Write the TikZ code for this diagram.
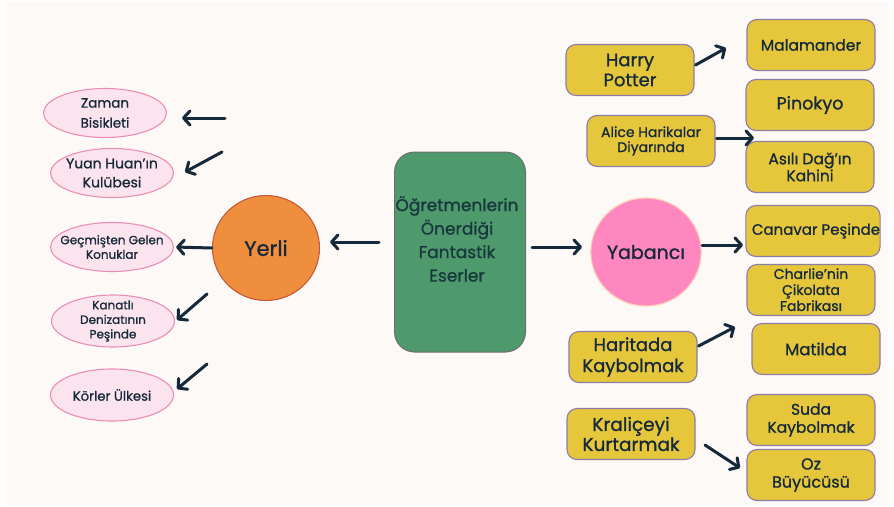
\documentclass[tikz,border=0pt]{standalone}
\usepackage{fontspec}
\setmainfont{Poppins}[BoldFont=*, BoldFeatures={FakeBold=1.0}]
\usetikzlibrary{arrows.meta,shapes.geometric}
\definecolor{bgc}{HTML}{FDF9F6}
\definecolor{ink}{HTML}{15293A}
\definecolor{pinkfill}{HTML}{FCE4EE}
\definecolor{pinkstroke}{HTML}{EC8DB6}
\definecolor{orangefill}{HTML}{EF8F3E}
\definecolor{orangestroke}{HTML}{C65A3A}
\definecolor{greenfill}{HTML}{4E9A6C}
\definecolor{greenstroke}{HTML}{6E6E6E}
\definecolor{hotpink}{HTML}{FF87BF}
\definecolor{peach}{HTML}{FFCDB4}
\definecolor{yfill}{HTML}{E6C73C}
\definecolor{ystroke}{HTML}{8E7CA8}
\definecolor{maintext}{HTML}{17383C}
\tikzset{
  pinkell/.style={ellipse, draw=pinkstroke, fill=pinkfill, line width=1.1pt,
    minimum width=123pt, minimum height=49pt, inner sep=0pt},
  ptext/.style={align=center, text=ink, inner sep=0pt},
  ybox/.style={rectangle, rounded corners=10pt, draw=ystroke, fill=yfill, line width=1.1pt,
    minimum width=128pt, minimum height=51pt, inner sep=0pt, align=center, text=ink},
  arr/.style={draw=ink, line width=3pt, line cap=round,
    -{Straight Barb[round,length=6.5pt,width=14pt]}},
  fs/.style 2 args={font=\fontsize{#1pt}{#2pt}\selectfont\bfseries}
}
\begin{document}
\begin{tikzpicture}[x=1pt,y=-1pt]
\useasboundingbox (0,0) rectangle (894,506);
\fill[white] (0,0) rectangle (894,506);
\fill[bgc] (6,1) rectangle (888,505);

% left ellipses (text as centred labels so the shape keeps its size)
\node[pinkell, label={[ptext, fs={13.5}{20}]center:Zaman\\Bisikleti}] (zaman) at (105,113) {};
\node[pinkell, label={[ptext, fs={14}{19}]center:Yuan Huan’ın\\Kulübesi}] (yuan) at (112,173) {};
\node[pinkell, label={[ptext, fs={12}{14.5}]center:Geçmişten Gelen\\Konuklar}] (gecmis) at (112,247) {};
\node[pinkell, minimum height=52pt, label={[ptext, fs={12}{14.5}]center:Kanatlı\\Denizatının\\Peşinde}] (kanatli) at (113,321) {};
\node[pinkell, minimum height=52pt, label={[ptext, fs={13.2}{16}]center:Körler Ülkesi}] (korler) at (112,395) {};

% centre
\node[ellipse, draw=orangestroke, fill=orangefill, line width=1.1pt, minimum width=107pt,
  minimum height=105pt, inner sep=0pt, text=ink, fs={21}{24}] (yerli) at (266,248) {Yerli};
\node[rectangle, rounded corners=20pt, draw=greenstroke, fill=greenfill, line width=1pt,
  minimum width=131pt, minimum height=200pt] (main) at (460,252) {};
\node[align=center, text=maintext, fs={17}{23.5}, inner sep=0pt] (maintxt) at (457,239)
  {Öğretmenlerin\\Önerdiği\\Fantastik\\Eserler};
\node[ellipse, draw=peach, fill=hotpink, line width=1.1pt, minimum width=106pt,
  minimum height=108pt, inner sep=0pt, text=ink, fs={19}{22}] (yabanci) at (646,252) {Yabancı};

% right boxes
\node[ybox, fs={18}{20}] (harry) at (630,70) {Harry\\Potter};
\node[ybox, fs={15.5}{18}] (malam) at (811,45) {Malamander};
\node[ybox, fs={17.5}{20}] (pinokyo) at (810,105) {Pinokyo};
\node[ybox, fs={14}{15}] (alice) at (651,141) {Alice Harikalar\\Diyarında};
\node[ybox, fs={15.5}{17}] (asili) at (810,167) {Asılı Dağ’ın\\Kahini};
\node[ybox, fs={15}{17}] (canavar) at (813,231) {\hspace*{6pt}Canavar Peşinde};
\node[ybox, fs={14}{16}] (charlie) at (811,290) {\\[-6pt]Charlie’nin\\Çikolata\\Fabrikası};
\node[ybox, fs={16.5}{18}] (matilda) at (816,349) {Matilda};
\node[ybox, fs={18}{21}] (haritada) at (633,357) {Haritada\\Kaybolmak};
\node[ybox, fs={18.5}{20}] (kralice) at (631,434) {Kraliçeyi\\Kurtarmak};
\node[ybox, fs={15.5}{18}] (suda) at (811,420) {Suda\\Kaybolmak};
\node[ybox, fs={16}{18}] (oz) at (811,475) {Oz\\Büyücüsü};

% arrow end points
\coordinate (a1s) at (225,118); \coordinate (a1e) at (182,118);
\coordinate (a2s) at (222,152); \coordinate (a2e) at (185,172);
\coordinate (a4s) at (207,294); \coordinate (a4e) at (177,320);
\coordinate (a5s) at (207,364); \coordinate (a5e) at (177,389);
\coordinate (m1s) at (379,242); \coordinate (m1e) at (330,242);
\coordinate (m2s) at (532,247); \coordinate (m2e) at (582,247);
\coordinate (y1s) at (702,245); \coordinate (y1e) at (743,245);
\coordinate (h1e) at (726,48);
\coordinate (al1e) at (754,138);
\coordinate (hr1e) at (735,327);
\coordinate (k1s) at (705,445); \coordinate (k1e) at (740,468);

\draw[arr] (a1s) -- (a1e);
\draw[arr] (a2s) -- (a2e);
\draw[arr, shorten >=2pt] (yerli.west) -- (gecmis.east);
\draw[arr] (a4s) -- (a4e);
\draw[arr] (a5s) -- (a5e);
\draw[arr] (m1s) -- (m1e);
\draw[arr] (m2s) -- (m2e);
\draw[arr] (y1s) -- (y1e);
\draw[arr] (harry.east) ++(1,-5) -- (h1e);
\draw[arr] (alice.east) ++(1,-3) -- (al1e);
\draw[arr] (haritada.east) ++(1,-11) -- (hr1e);
\draw[arr] (k1s) -- (k1e);
\end{tikzpicture}
\end{document}
